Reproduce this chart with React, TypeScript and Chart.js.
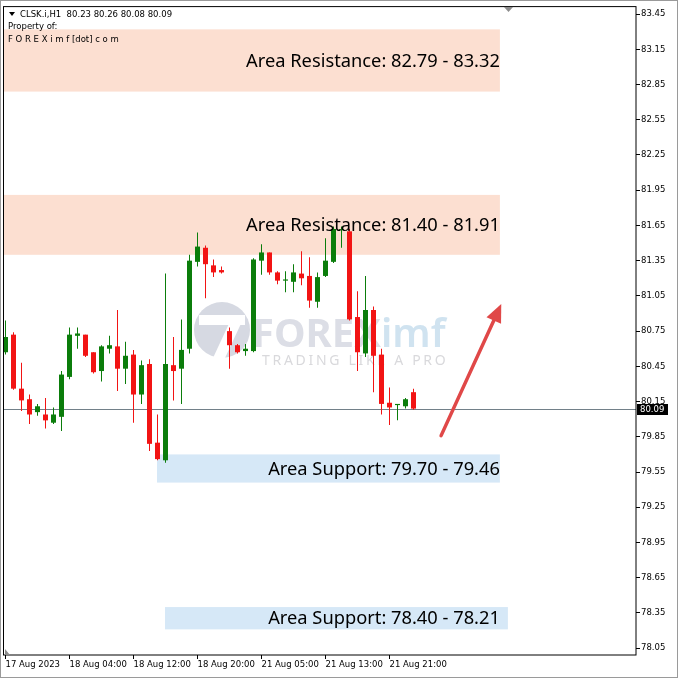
import { useEffect, useRef } from "react";
import { Chart, registerables } from "chart.js";

Chart.register(...registerables);

// ---- data ----
const headerText = "CLSK.i,H1  80.23 80.26 80.08 80.09";
const propertyLine1 = "Property of:";
const propertyLine2 = "F O R E X i m f [dot] c o m";

const opens = [
  80.57, 80.72, 80.26, 80.17, 80.06, 80.04, 79.97, 80.02, 80.36, 80.71,
  80.72, 80.57, 80.41, 80.60, 80.62, 80.43, 80.55, 80.21, 80.47, 79.80,
  79.65, 80.46, 80.43, 80.60, 81.34, 81.46, 81.31, 81.27, 80.75, 80.63,
  80.58, 80.58, 81.35, 81.42, 81.25, 81.18, 81.17, 81.24, 81.22, 81.00,
  81.22, 81.34, 81.61, 81.60, 80.87, 80.56, 80.93, 80.55, 80.14, 80.12,
  80.11, 80.23,
];
const highs = [
  80.84, 80.74, 80.48, 80.21, 80.13, 80.18, 80.10, 80.41, 80.78, 80.78,
  80.72, 80.57, 80.63, 80.71, 80.93, 80.66, 80.59, 80.50, 80.51, 80.04,
  81.24, 80.70, 80.85, 81.40, 81.59, 81.48, 81.36, 81.30, 80.78, 80.64,
  80.64, 81.37, 81.49, 81.42, 81.26, 81.26, 81.32, 81.43, 81.38, 81.25,
  81.54, 81.64, 81.64, 81.62, 81.09, 81.22, 80.96, 80.60, 80.27, 80.13,
  80.18, 80.26,
];
const lows = [
  80.55, 80.25, 80.07, 79.96, 80.03, 79.92, 79.96, 79.90, 80.34, 80.60,
  80.53, 80.39, 80.32, 80.56, 80.24, 80.30, 79.97, 80.13, 79.73, 79.65,
  79.63, 80.16, 80.13, 80.56, 81.30, 81.03, 81.21, 81.24, 80.43, 80.56,
  80.54, 80.57, 81.23, 81.23, 81.15, 81.08, 81.08, 81.14, 80.95, 80.95,
  81.21, 81.33, 81.46, 80.84, 80.41, 80.53, 80.23, 80.04, 79.95, 79.99,
  80.09, 80.08,
];
const closes = [
  80.70, 80.26, 80.16, 80.04, 80.11, 79.99, 80.04, 80.38, 80.72, 80.73,
  80.54, 80.40, 80.62, 80.63, 80.43, 80.54, 80.21, 80.46, 79.79, 79.66,
  80.47, 80.41, 80.59, 81.35, 81.47, 81.32, 81.25, 81.25, 80.63, 80.57,
  80.60, 81.36, 81.42, 81.25, 81.18, 81.19, 81.25, 81.20, 81.01, 81.21,
  81.35, 81.62, 81.61, 80.85, 80.57, 80.93, 80.54, 80.13, 80.10, 80.13,
  80.17, 80.09,
];

const xTickIndex = [0, 8, 16, 24, 32, 40, 48];
const xTickLabels = [
  "17 Aug 2023",
  "18 Aug 04:00",
  "18 Aug 12:00",
  "18 Aug 20:00",
  "21 Aug 05:00",
  "21 Aug 13:00",
  "21 Aug 21:00",
];
const yTicks = [
  78.05, 78.35, 78.65, 78.95, 79.25, 79.55, 79.85, 80.15, 80.45, 80.75,
  81.05, 81.35, 81.65, 81.95, 82.25, 82.55, 82.85, 83.15, 83.45,
];
const currentPrice = 80.09;

const zoneLabels = [
  "Area Resistance: 82.79 - 83.32",
  "Area Resistance: 81.40 - 81.91",
  "Area Support: 79.70 - 79.46",
  "Area Support: 78.40 - 78.21",
];
const zoneLow = [82.79, 81.4, 79.46, 78.21];
const zoneHigh = [83.32, 81.91, 79.7, 78.4];
const zoneStart = [-1, -1, 18.94, 19.94];
const zoneEnd = [61.8, 61.8, 61.8, 62.8];
const zoneKind = ["res", "res", "sup", "sup"];
const zoneLabelEnd = 61.8;

const arrowFrom = [54.45, 79.86];
const arrowTo = [61.97, 80.98];

// ---- style ----
const GREEN = "#0b7d0b";
const RED = "#f21414";
const RES_FILL = "#fcdfd1";
const SUP_FILL = "#d6e8f7";
const SMALL_FONT = "DejaVu Sans";

const xMin = -0.1875;
const xMax = xMin + 79;
const yMax = 83.518;
const yMin = yMax - 651 / 117.8;

const overlayPlugin = {
  id: "overlay",
  beforeDatasetsDraw(chart: any) {
    const { ctx, chartArea: a, scales } = chart;
    const xs = scales.x;
    const ys = scales.y;
    ctx.save();
    ctx.beginPath();
    ctx.rect(a.left, a.top, a.right - a.left, a.bottom - a.top);
    ctx.clip();
    // zones
    for (let i = 0; i < zoneLow.length; i++) {
      const x1 = Math.max(a.left, xs.getPixelForValue(zoneStart[i]));
      const x2 = xs.getPixelForValue(zoneEnd[i]);
      const y1 = ys.getPixelForValue(zoneHigh[i]);
      const y2 = ys.getPixelForValue(zoneLow[i]);
      ctx.fillStyle = zoneKind[i] === "res" ? RES_FILL : SUP_FILL;
      ctx.fillRect(x1, y1, x2 - x1, y2 - y1);
    }
    // watermark logo
    ctx.fillStyle = "#d6d9e2";
    ctx.beginPath();
    ctx.arc(222, 330, 28, 0, Math.PI * 2);
    ctx.fill();
    ctx.fillStyle = "#ffffff";
    ctx.fillRect(199, 315, 46, 10);
    ctx.beginPath();
    ctx.moveTo(233, 315);
    ctx.lineTo(245, 315);
    ctx.lineTo(225, 358);
    ctx.lineTo(213, 358);
    ctx.closePath();
    ctx.fill();
    ctx.textBaseline = "alphabetic";
    ctx.textAlign = "left";
    ctx.font = "bold 40px 'Noto Sans'";
    ctx.fillStyle = "#dcdee6";
    ctx.fillText("FOREX", 252, 347);
    const w = ctx.measureText("FOREX").width;
    ctx.font = "600 40px 'Noto Sans'";
    ctx.fillStyle = "#d0e3f0";
    ctx.fillText("imf", 252 + w, 347);
    ctx.font = "14px 'Noto Sans'";
    ctx.fillStyle = "#d9d9dc";
    (ctx as any).letterSpacing = "2.7px";
    ctx.fillText("TRADING LIKE A PRO", 262, 365);
    (ctx as any).letterSpacing = "0px";
    // current price line
    const py = Math.round(ys.getPixelForValue(currentPrice)) + 0.5;
    ctx.strokeStyle = "#728089";
    ctx.lineWidth = 1;
    ctx.beginPath();
    ctx.moveTo(a.left, py);
    ctx.lineTo(a.right, py);
    ctx.stroke();
    ctx.restore();
  },
  afterDatasetsDraw(chart: any) {
    const { ctx, chartArea: a, scales } = chart;
    const xs = scales.x;
    const ys = scales.y;
    ctx.save();
    // zone labels
    ctx.font = "18.3px 'Noto Sans'";
    ctx.fillStyle = "#000";
    ctx.textAlign = "right";
    ctx.textBaseline = "middle";
    const lx = xs.getPixelForValue(zoneLabelEnd);
    for (let i = 0; i < zoneLabels.length; i++) {
      const yc = (ys.getPixelForValue(zoneHigh[i]) + ys.getPixelForValue(zoneLow[i])) / 2 + 1;
      ctx.fillText(zoneLabels[i], lx, yc);
    }
    // arrow
    const x1 = xs.getPixelForValue(arrowFrom[0]);
    const y1 = ys.getPixelForValue(arrowFrom[1]);
    const x2 = xs.getPixelForValue(arrowTo[0]);
    const y2 = ys.getPixelForValue(arrowTo[1]);
    const len = Math.hypot(x2 - x1, y2 - y1);
    const ux = (x2 - x1) / len;
    const uy = (y2 - y1) / len;
    const hl = 18;
    const hw = 8;
    const bx = x2 - ux * hl;
    const by = y2 - uy * hl;
    ctx.strokeStyle = "#e04848";
    ctx.fillStyle = "#e04848";
    ctx.lineWidth = 3.5;
    ctx.lineCap = "round";
    ctx.beginPath();
    ctx.moveTo(x1, y1);
    ctx.lineTo(bx + ux * 2, by + uy * 2);
    ctx.stroke();
    ctx.beginPath();
    ctx.moveTo(x2, y2);
    ctx.lineTo(bx - uy * hw, by + ux * hw);
    ctx.lineTo(bx + uy * hw, by - ux * hw);
    ctx.closePath();
    ctx.fill();
    // header
    ctx.fillStyle = "#000";
    ctx.beginPath();
    ctx.moveTo(a.left + 5, a.top + 6);
    ctx.lineTo(a.left + 11, a.top + 6);
    ctx.lineTo(a.left + 8, a.top + 10);
    ctx.closePath();
    ctx.fill();
    ctx.font = `8.5px '${SMALL_FONT}'`;
    ctx.textAlign = "left";
    ctx.textBaseline = "middle";
    ctx.fillText(headerText, a.left + 16, a.top + 8.5);
    ctx.fillText(propertyLine1, a.left + 4, a.top + 21);
    ctx.fillText(propertyLine2, a.left + 4, a.top + 33.5);
    ctx.restore();
  },
  afterDraw(chart: any) {
    const { ctx, chartArea: a, scales, width, height } = chart;
    const ys = scales.y;
    ctx.save();
    // plot frame
    ctx.strokeStyle = "#000";
    ctx.lineWidth = 1;
    ctx.strokeRect(a.left - 0.5, a.top + 0.5, a.right - a.left + 0.5, a.bottom - a.top - 0.5);
    // shift markers
    ctx.fillStyle = "#8c8c8c";
    ctx.beginPath();
    ctx.moveTo(504, a.top + 1);
    ctx.lineTo(513, a.top + 1);
    ctx.lineTo(508.5, a.top + 6);
    ctx.closePath();
    ctx.fill();
    ctx.beginPath();
    ctx.moveTo(a.left + 1, a.bottom - 6);
    ctx.lineTo(a.left + 1, a.bottom);
    ctx.lineTo(a.left + 6, a.bottom);
    ctx.closePath();
    ctx.fill();
    // current price label
    const py = Math.round(ys.getPixelForValue(currentPrice));
    ctx.fillStyle = "#000";
    ctx.fillRect(a.right + 1, py - 5, 31, 11);
    ctx.fillStyle = "#fff";
    ctx.font = `8.5px '${SMALL_FONT}'`;
    ctx.textAlign = "left";
    ctx.textBaseline = "middle";
    ctx.fillText(currentPrice.toFixed(2), a.right + 4, py + 0.5);
    // window frame
    ctx.strokeStyle = "#9a9a9a";
    ctx.strokeRect(0.5, 0.5, width - 1, height - 1);
    ctx.restore();
  },
};

export default function App() {
  const ref = useRef<HTMLCanvasElement | null>(null);
  useEffect(() => {
    if (!ref.current) return;
    const colors = opens.map((o, i) => (closes[i] >= o ? GREEN : RED));
    const chart = new Chart(ref.current, {
      type: "bar",
      data: {
        datasets: [
          {
            label: "body",
            data: opens.map((o, i) => ({ x: i, y: [o, closes[i]] })) as any,
            backgroundColor: colors,
            barThickness: 5,
            minBarLength: 1,
            grouped: false,
            inflateAmount: 0,
            borderWidth: 0,
            clip: 0,
          } as any,
          {
            label: "wick",
            data: lows.map((l, i) => ({ x: i, y: [l, highs[i]] })) as any,
            backgroundColor: colors,
            barThickness: 1,
            minBarLength: 1,
            grouped: false,
            inflateAmount: 0,
            borderWidth: 0,
            clip: 0,
          } as any,
        ],
      },
      options: {
        responsive: false,
        animation: false,
        events: [],
        layout: { padding: { left: 4, top: 4, right: 0, bottom: 0 } },
        plugins: { legend: { display: false }, tooltip: { enabled: false } },
        scales: {
          x: {
            type: "linear",
            offset: false,
            min: xMin,
            max: xMax,
            afterBuildTicks: (s: any) => {
              s.ticks = xTickIndex.map((v) => ({ value: v }));
            },
            afterFit: (s: any) => {
              s.height = 23;
            },
            grid: { display: true, offset: false, drawOnChartArea: false, drawTicks: true, tickLength: 4, color: "#000" },
            border: { display: false },
            ticks: {
              align: "start",
              autoSkip: false,
              maxRotation: 0,
              padding: 1,
              color: "#000",
              font: { family: SMALL_FONT, size: 8.5 },
              callback: (_v: any, i: number) => xTickLabels[i] ?? "",
            },
          },
          y: {
            type: "linear",
            position: "right",
            min: yMin,
            max: yMax,
            afterBuildTicks: (s: any) => {
              s.ticks = yTicks.map((v) => ({ value: v }));
            },
            afterFit: (s: any) => {
              s.width = 42;
            },
            grid: { display: true, drawOnChartArea: false, drawTicks: true, tickLength: 4, color: "#000" },
            border: { display: false },
            ticks: {
              autoSkip: false,
              padding: 1,
              color: "#000",
              font: { family: SMALL_FONT, size: 8.5 },
              callback: (v: any) => Number(v).toFixed(2),
            },
          },
        },
      } as any,
      plugins: [overlayPlugin],
    });
    return () => chart.destroy();
  }, []);
  return (
    <div style={{ position: "absolute", left: 0, top: 0, width: 678, height: 678, background: "#fff" }}>
      <canvas ref={ref} width={678} height={678} style={{ display: "block", width: 678, height: 678 }} />
    </div>
  );
}
